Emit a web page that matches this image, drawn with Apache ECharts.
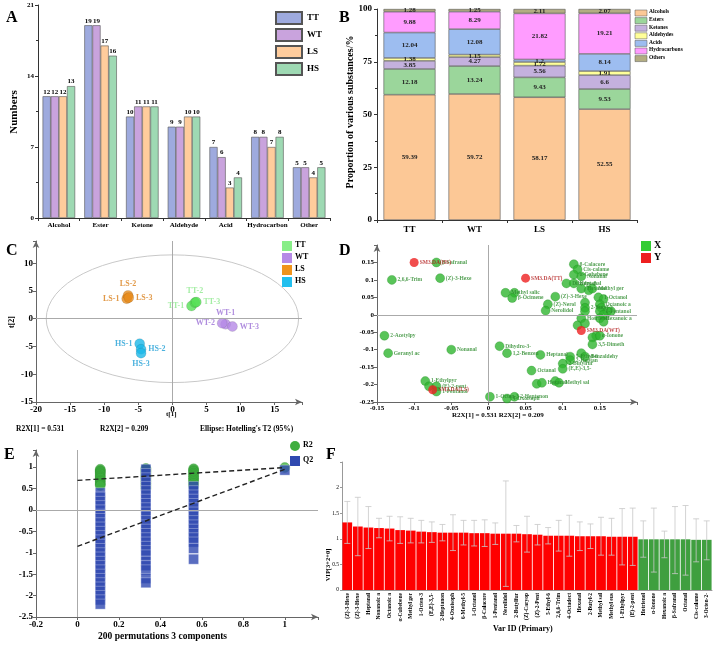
<!DOCTYPE html>
<html><head><meta charset="utf-8">
<script src="https://cdn.jsdelivr.net/npm/echarts@6/dist/echarts.min.js"></script>
<style>html,body{margin:0;padding:0;background:#fff}#c{width:714px;height:648px}</style>
</head><body><div id="c"></div>
<script>
// ---------- Panel A ----------
const aCats = ['Alcohol','Ester','Ketone','Aldehyde','Acid','Hydrocarbon','Other'];
const aTT = [12,19,10,9,7,8,5];
const aWT = [12,19,11,9,6,8,5];
const aLS = [12,17,11,10,3,7,4];
const aHS = [13,16,11,10,4,8,5];
// ---------- Panel B ----------
const bGroups = ['TT','WT','LS','HS'];
const bClasses = ['Alcohols','Esters','Ketones','Aldehydes','Acids','Hydrocarbons','Others'];
const bAlcohols = [59.39,59.72,58.17,52.55];
const bEsters = [12.18,13.24,9.43,9.53];
const bKetones = [3.85,4.27,5.56,6.6];
const bAldehydes = [1.38,1.15,1.72,1.91];
const bAcids = [12.04,12.08,1.2,8.14];
const bHydrocarbons = [9.88,8.29,21.82,19.21];
const bOthers = [1.28,1.25,2.11,2.07];
// ---------- Panel C ----------
const cTT = [[2.8,2.3,'TT-1'],[3.3,2.9,'TT-2'],[3.5,3.0,'TT-3']];
const cWT = [[7.8,-1.0,'WT-1'],[7.3,-0.8,'WT-2'],[8.8,-1.4,'WT-3']];
const cLS = [[-6.7,3.6,'LS-1'],[-6.5,4.2,'LS-2'],[-6.4,3.8,'LS-3']];
const cHS = [[-4.8,-4.5,'HS-1'],[-4.6,-5.5,'HS-2'],[-4.6,-6.2,'HS-3']];
const cEllipse = [0,0,18.5,11.5];
// ---------- Panel D ----------
const dGreen = [
 [-0.07,0.15,'β-Safranal'],[-0.13,0.1,'2,6,6-Trim'],[-0.065,0.105,'(Z)-3-Hexe'],
 [0.115,0.145,'β-Calacore'],[0.12,0.13,'Cis-calame'],[0.115,0.115,'α-Cubebene'],[0.125,0.11,'Nonanal'],
 [0.105,0.09,'Dihydro-β'],[0.115,0.09,'Heptanal'],[0.125,0.075,'Hexanal'],[0.135,0.07,''],[0.14,0.075,'Methyl ger'],
 [0.023,0.063,'Methyl salic'],[0.035,0.063,''],[0.032,0.048,'β-Ocimene'],
 [0.09,0.052,'(Z)-3-Hexe'],[0.08,0.03,'(Z)-Nerol'],[0.077,0.012,'Nerolidol'],
 [0.148,0.05,'1-Octanol'],[0.155,0.045,''],[0.15,0.03,'Octanoic a'],[0.152,0.02,''],[0.15,0.01,'1-Pentanol'],
 [0.16,0.01,''],[0.155,0.0,''],[0.15,-0.01,'Hexanoic a'],[0.155,-0.02,''],[0.165,0.01,''],
 [0.13,0.035,''],[0.13,0.02,'2-Butyl-2'],[0.13,0.01,''],[0.125,-0.01,'Hotrienol'],[0.12,-0.03,''],[0.13,-0.025,''],
 [0.145,-0.06,'α-Ionone'],[0.14,-0.065,''],[0.15,-0.06,''],[0.14,-0.085,'3,5-Dimeth'],
 [-0.14,-0.06,'2-Acetylpy'],[-0.135,-0.11,'Geranyl ac'],[-0.05,-0.1,'Nonanal'],
 [0.015,-0.09,'Dihydro-3-'],[0.025,-0.11,'1,2-Benzen'],[0.07,-0.115,'Heptanal'],
 [0.11,-0.12,'5-Ethyl-6'],[0.11,-0.13,'2-Heptan'],[0.125,-0.11,''],[0.13,-0.12,'Benzaldehy'],
 [0.1,-0.14,'2-Butylfur'],[0.1,-0.155,'(E,E)-3,5-'],[0.058,-0.16,'Octanal'],
 [0.065,-0.198,''],[0.072,-0.195,'Hexanal'],[0.09,-0.19,''],[0.095,-0.195,'Methyl sal'],
 [-0.085,-0.19,'1-Ethylpyr'],[-0.08,-0.205,''],[-0.07,-0.205,'(E)-2-pent'],[-0.07,-0.22,'1-Pentanol'],
 [0.002,-0.235,'1-Octen-3'],[0.025,-0.24,'4-Oxoisoph'],[0.035,-0.235,'2-Heptanon']
];
const dRed = [[-0.1,0.15,'SM3.DA(HS)'],[0.05,0.105,'SM3.DA(TT)'],[0.125,-0.045,'SM3.DA(WT)'],[-0.075,-0.215,'SM3.DA(LS)']];
// ---------- Panel E ----------
const ePermX = [0.11,0.33,0.56];
const eR2 = [
 [0.95,0.92,0.9,0.87,0.84,0.8,0.77,0.74,0.7,0.67,0.63,0.6,0.57],
 [0.97,0.95,0.92,0.89,0.86,0.83,0.8,0.77,0.74,0.7,0.66,0.62,0.58,0.54,0.5],
 [0.96,0.93,0.9,0.86,0.82,0.78,0.74,0.7,0.66,0.62,0.58,0.55]
];
const eQ2 = [
 [0.4,0.3,0.2,0.1,0,-0.1,-0.2,-0.3,-0.4,-0.5,-0.6,-0.7,-0.8,-0.9,-1.0,-1.1,-1.2,-1.3,-1.4,-1.5,-1.6,-1.7,-1.8,-1.9,-2.0,-2.1,-2.2],
 [0.95,0.85,0.75,0.65,0.55,0.45,0.35,0.25,0.15,0.05,-0.05,-0.15,-0.25,-0.35,-0.45,-0.55,-0.65,-0.75,-0.85,-0.95,-1.05,-1.2,-1.3,-1.4,-1.6,-1.7],
 [0.55,0.45,0.35,0.25,0.15,0.05,-0.05,-0.15,-0.25,-0.35,-0.45,-0.55,-0.65,-0.75,-0.9,-1.15]
];
const eOrigR2 = [1,0.99];
const eOrigQ2 = [1,0.93];
const eR2Line = [[0,0.69],[1,0.99]];
const eQ2Line = [[0,-0.85],[1,0.95]];
// ---------- Panel F ----------
const fNames = ['(Z)-3-Hexe','(Z)-3-Hexe','Heptanal','Nonanoic a','Octanoic a','α-Cubebene','Methyl ger','1-Octen-3','(E,E)-3,5-','2-Heptanon','4-Oxoisoph','6-Methyl-5','1-Octanol','β-Calacore','1-Pentanol','Nerolidol','2-Butylfur','(Z)-Caryop','(Z)-2-Pent','5-Ethyl-6','2,6,6-Trim','4-Octadect','Hexanal','2-Butyl-2','Methyl sal','Methyl eus','1-Ethylpyr','(E)-2-pent','Hotrienol','α-Ionone','Hexanoic a','β-Safranal','Octanal','Cis-calame','3-Octen-2-'];
const fVip = [1.32,1.24,1.22,1.21,1.20,1.17,1.16,1.14,1.13,1.12,1.12,1.12,1.11,1.11,1.10,1.10,1.10,1.09,1.08,1.06,1.06,1.06,1.05,1.05,1.05,1.04,1.04,1.04,0.99,0.99,0.99,0.99,0.99,0.98,0.98];
const fUpper = [1.73,1.81,1.63,1.40,1.44,1.43,1.40,1.36,1.33,1.28,1.47,1.36,1.36,1.37,1.31,2.13,1.26,1.44,1.28,1.22,1.36,1.46,1.33,1.29,1.42,1.40,1.59,1.60,1.35,1.60,1.15,1.63,1.65,1.39,1.35];
const fLower = [0.91,0.67,0.81,1.02,0.96,0.91,0.92,0.92,0.93,0.96,0.77,0.88,0.86,0.85,0.89,0.07,0.94,0.74,0.88,0.90,0.76,0.66,0.77,0.81,0.68,0.68,0.49,0.48,0.64,0.35,0.63,0.32,0.29,0.55,0.59];
const fRedCount = 28;

const SERIF = 'Liberation Serif';
const chart = echarts.init(document.getElementById('c'));
const axisTxt = (fs)=>({fontFamily:SERIF,fontWeight:'bold',fontSize:fs,color:'#000'});
const arrowLine = {show:true,lineStyle:{color:'#666'},symbol:['none','arrow'],symbolSize:[5,7]};
const plainLine = {show:true,lineStyle:{color:'#333'}};
const every5 = v=> (Math.round(v)%5===0 && Math.abs(v-Math.round(v))<1e-6)?String(v):'';

const aColors = ['#9eaade','#c9a3dd','#ffcc9c','#9ed9b3'];
const bColors = ['#fcc896','#9bd69b','#c4b1de','#ffff99','#9dbdf0','#ff9cff','#b3ad82'];
const cColors = {TT:'#55e055',WT:'#b58ae6',LS:'#e88c1c',HS:'#1ab8e8'};
const cTxt = {TT:'#8de88d',WT:'#9b6fd6',LS:'#d9801a',HS:'#1f9fd6'};

const series = [];
[aTT,aWT,aLS,aHS].forEach((arr,i)=>{
  series.push({type:'bar',name:['TT','WT','LS','HS'][i],xAxisIndex:0,yAxisIndex:0,data:arr,barGap:'0%',barCategoryGap:'22%',
    itemStyle:{color:aColors[i],borderColor:'#555',borderWidth:0.6},
    label:{show:true,position:'top',distance:1,...axisTxt(7)}});
});
[bAlcohols,bEsters,bKetones,bAldehydes,bAcids,bHydrocarbons,bOthers].forEach((arr,i)=>{
  series.push({type:'bar',name:bClasses[i],xAxisIndex:1,yAxisIndex:1,stack:'b',data:arr,barWidth:'80%',
    itemStyle:{color:bColors[i],borderColor:'#555',borderWidth:0.6},
    label:{show:true,position:'inside',...axisTxt(7),color:'#222'}});
});
series.push({type:'custom',xAxisIndex:2,yAxisIndex:2,data:[cEllipse],silent:true,z:1,
  renderItem:(p,api)=>{const c=api.coord([api.value(0),api.value(1)]);const q=api.coord([api.value(2),api.value(3)]);
    const rx=q[0]-c[0], ry=c[1]-q[1];
    return {type:'path',shape:{pathData:`M${c[0]-rx} ${c[1]} A${rx} ${ry} 0 1 0 ${c[0]+rx} ${c[1]} A${rx} ${ry} 0 1 0 ${c[0]-rx} ${c[1]} Z`},style:{fill:'none',stroke:'#c8c8c8',lineWidth:1}};}});
series.push({type:'line',xAxisIndex:2,yAxisIndex:2,data:[],silent:true,markLine:{silent:true,symbol:'none',label:{show:false},lineStyle:{color:'#aaa',type:'solid',width:1},data:[{xAxis:0},{yAxis:0}]}});
const cPos = {'TT-1':'left','TT-2':'top','TT-3':'right','WT-1':'top','WT-2':'left','WT-3':'right','LS-1':'left','LS-2':'top','LS-3':'right','HS-1':'left','HS-2':'right','HS-3':'bottom'};
[['TT',cTT],['WT',cWT],['LS',cLS],['HS',cHS]].forEach(([g,arr])=>{
  series.push({type:'scatter',name:g,xAxisIndex:2,yAxisIndex:2,symbolSize:10,z:3,
    itemStyle:{color:cColors[g],borderColor:'rgba(0,0,0,0.25)',borderWidth:0.5},
    data:arr.map(d=>({value:[d[0],d[1]],name:d[2],label:{position:cPos[d[2]]}})),
    label:{show:true,formatter:'{b}',distance:2,fontFamily:SERIF,fontWeight:'bold',fontSize:8,color:cTxt[g]}});
});
series.push({type:'line',xAxisIndex:3,yAxisIndex:3,data:[],silent:true,markLine:{silent:true,symbol:'none',label:{show:false},lineStyle:{color:'#aaa',type:'solid',width:1},data:[{xAxis:0},{yAxis:0}]}});
series.push({type:'scatter',name:'X',xAxisIndex:3,yAxisIndex:3,symbolSize:9,z:3,
  itemStyle:{color:'#2fb52f',borderColor:'#1e8a1e',borderWidth:0.4},
  data:dGreen.map(d=>({value:[d[0],d[1]],name:d[2]})),
  label:{show:true,position:'right',distance:1,formatter:'{b}',fontFamily:SERIF,fontSize:5.5,fontWeight:'bold',color:'#2a8a2a'}});
series.push({type:'scatter',name:'Y',xAxisIndex:3,yAxisIndex:3,symbolSize:9,z:4,
  itemStyle:{color:'#ee2020'},
  data:dRed.map(d=>({value:[d[0],d[1]],name:d[2]})),
  label:{show:true,position:'right',distance:1,formatter:'{b}',fontFamily:SERIF,fontSize:5.5,fontWeight:'bold',color:'#b01818'}});
series.push({type:'line',xAxisIndex:4,yAxisIndex:4,data:[],silent:true,markLine:{silent:true,symbol:'none',label:{show:false},lineStyle:{color:'#aaa',type:'solid',width:1},data:[{xAxis:0},{yAxis:0}]}});
const r2Data=[], q2Data=[];
ePermX.forEach((x,i)=>{eR2[i].forEach(v=>r2Data.push([x,v])); eQ2[i].forEach(v=>q2Data.push([x,v]));});
r2Data.push(eOrigR2); q2Data.push(eOrigQ2);
series.push({type:'scatter',name:'R2',xAxisIndex:4,yAxisIndex:4,symbol:'circle',symbolSize:10,z:3,itemStyle:{color:'#3fae3f',borderColor:'#2a8a2a',borderWidth:0.4},data:r2Data});
series.push({type:'scatter',name:'Q2',xAxisIndex:4,yAxisIndex:4,symbol:'rect',symbolSize:10,z:4,itemStyle:{color:'#2f49b0',borderColor:'#ffffff',borderWidth:0.4},data:q2Data});
series.push({type:'line',xAxisIndex:4,yAxisIndex:4,data:eR2Line,symbol:'none',z:5,lineStyle:{color:'#222',type:[5,3],width:1.4}});
series.push({type:'line',xAxisIndex:4,yAxisIndex:4,data:eQ2Line,symbol:'none',z:5,lineStyle:{color:'#222',type:[5,3],width:1.4}});
series.push({type:'bar',xAxisIndex:5,yAxisIndex:5,barCategoryGap:'8%',
  data:fVip.map((v,i)=>({value:v,itemStyle:{color:i<fRedCount?'#ff0000':'#3f9f3f'}}))});
series.push({type:'custom',xAxisIndex:5,yAxisIndex:5,z:5,silent:true,
  data:fVip.map((v,i)=>[i,fLower[i],fUpper[i]]),
  renderItem:(p,api)=>{const lo=api.coord([api.value(0),api.value(1)]);const hi=api.coord([api.value(0),api.value(2)]);const w=3;
    const st={stroke:'#c8c8c8',lineWidth:0.8};
    return {type:'group',children:[
      {type:'line',shape:{x1:hi[0],y1:hi[1],x2:lo[0],y2:lo[1]},style:st},
      {type:'line',shape:{x1:hi[0]-w,y1:hi[1],x2:hi[0]+w,y2:hi[1]},style:st},
      {type:'line',shape:{x1:lo[0]-w,y1:lo[1],x2:lo[0]+w,y2:lo[1]},style:st}]};}});

const T = (x,y,text,fs,extra={})=>({type:'text',left:x,top:y,style:{text,fontFamily:SERIF,fontWeight:'bold',fontSize:fs,fill:'#000',...extra}});
const TR = (x,y,text,fs)=>({type:'text',x,y,rotation:Math.PI/2,style:{text,fontFamily:SERIF,fontWeight:'bold',fontSize:fs,fill:'#000',align:'center',verticalAlign:'middle'}});
const sq = (x,y,c,shape)=>shape==='circle'?{type:'circle',shape:{cx:x+5,cy:y+5,r:5},style:{fill:c}}:{type:'rect',shape:{x,y,width:10,height:10},style:{fill:c}};

const graphic = [
  T(6,10,'A',16),T(339,10,'B',16),T(6,243,'C',16),T(339,243,'D',16),T(4,447,'E',16),T(326,447,'F',16),
  TR(14,112,'Numbers',11),TR(350,112,'Proportion of various substances/%',10),
  TR(12,322,'t[2]',8),T(166,411,'t[1]',7),
  T(16,425,'R2X[1] = 0.531',7.5),T(100,425,'R2X[2] = 0.209',7.5),T(200,425,"Ellipse: Hotelling's T2 (95%)",7.5),
  T(452,412,'R2X[1] = 0.531 R2X[2] = 0.209',7),
  T(98,632,'200 permutations 3 components',9.5),T(493,625,'Var ID (Primary)',8),
  TR(328,565,'VIP[3+2+0]',6.5),
  sq(282,241,'#88ee88'),T(295,241,'TT',8),sq(282,253,'#b58ae6'),T(295,253,'WT',8),
  sq(282,265,'#f0941c'),T(295,265,'LS',8),sq(282,277,'#22bfee'),T(295,277,'HS',8),
  sq(641,241,'#33cc33'),T(654,240,'X',10),sq(641,253,'#ee2020'),T(654,252,'Y',10),
  sq(290,441,'#3fae3f','circle'),T(303,441,'R2',8),sq(290,456,'#2f49b0'),T(303,456,'Q2',8)
];
bClasses.forEach((n,i)=>{graphic.push({type:'rect',shape:{x:635,y:10+i*7.6,width:12,height:6},style:{fill:bColors[i],stroke:'#555',lineWidth:0.5}});
  graphic.push(T(649,9+i*7.6,n,5.5));});

chart.setOption({
  animation:false,
  textStyle:{fontFamily:SERIF},
  legend:[{data:['TT','WT','LS','HS'],left:270,top:6,orient:'vertical',icon:'rect',itemWidth:26,itemHeight:12,itemGap:3,textStyle:axisTxt(9)}],
  grid:[
    {left:38,top:5,width:292,height:213},
    {left:377,top:9,width:260,height:211},
    {left:36,top:241,width:266,height:161},
    {left:377,top:245,width:260,height:157},
    {left:36,top:450,width:282,height:167},
    {left:342,top:462,width:370,height:128}
  ],
  xAxis:[
    {gridIndex:0,type:'category',data:aCats,axisLine:plainLine,axisTick:{show:true,length:3},axisLabel:{...axisTxt(7),margin:4,interval:0}},
    {gridIndex:1,type:'category',data:bGroups,axisLine:plainLine,axisTick:{show:true,length:3},axisLabel:{...axisTxt(9),margin:5}},
    {gridIndex:2,type:'value',min:-20,max:19,interval:5,splitLine:{show:false},axisLine:{...arrowLine,onZero:false},axisTick:{show:true,length:3},axisLabel:{...axisTxt(9),formatter:every5,margin:3}},
    {gridIndex:3,type:'value',min:-0.15,max:0.2,interval:0.05,splitLine:{show:false},axisLine:{...arrowLine,onZero:false},axisTick:{show:true,length:3},axisLabel:{...axisTxt(7),margin:3,formatter:v=>v>=0.19?'':String(+v.toFixed(2))}},
    {gridIndex:4,type:'value',min:-0.2,max:1.16,interval:0.2,splitLine:{show:false},axisLine:{...arrowLine,onZero:false},axisTick:{show:true,length:3},axisLabel:{...axisTxt(9),margin:3,formatter:v=>v>1.01?'':String(+v.toFixed(1))}},
    {gridIndex:5,type:'category',data:fNames,axisLine:{show:true,lineStyle:{color:'#999'}},axisTick:{show:false},axisLabel:{interval:0,rotate:90,fontFamily:SERIF,fontWeight:'bold',fontSize:5.5,color:'#000',margin:3}}
  ],
  yAxis:[
    {gridIndex:0,type:'value',min:0,max:21,interval:7,splitLine:{show:false},axisLine:plainLine,axisTick:{show:true,length:3},minorTick:{show:true,splitNumber:2,length:2},axisLabel:{...axisTxt(7),margin:4}},
    {gridIndex:1,type:'value',min:0,max:100,interval:25,splitLine:{show:false},axisLine:plainLine,axisTick:{show:true,length:3},minorTick:{show:true,splitNumber:2,length:2},axisLabel:{...axisTxt(9),margin:5}},
    {gridIndex:2,type:'value',min:-15,max:14,interval:5,splitLine:{show:false},axisLine:{...arrowLine,onZero:false},axisTick:{show:true,length:3},axisLabel:{...axisTxt(9),formatter:every5,margin:3}},
    {gridIndex:3,type:'value',min:-0.25,max:0.2,interval:0.05,splitLine:{show:false},axisLine:{...arrowLine,onZero:false},axisTick:{show:true,length:3},axisLabel:{...axisTxt(7),margin:3,formatter:v=>v>0.17?'':String(+v.toFixed(2))}},
    {gridIndex:4,type:'value',min:-2.5,max:1.4,interval:0.5,splitLine:{show:false},axisLine:{...arrowLine,onZero:false},axisTick:{show:true,length:3},axisLabel:{...axisTxt(9),margin:3,formatter:v=>v>1.01?'':String(+v.toFixed(1))}},
    {gridIndex:5,type:'value',min:0,max:2.5,interval:0.5,splitLine:{show:false},axisLine:{show:true,lineStyle:{color:'#999'}},axisTick:{show:true,length:2},axisLabel:{fontFamily:SERIF,fontSize:5.5,color:'#000',margin:3,formatter:v=>v>2.4?'':String(v)}}
  ],
  series,
  graphic
});
</script></body></html>
